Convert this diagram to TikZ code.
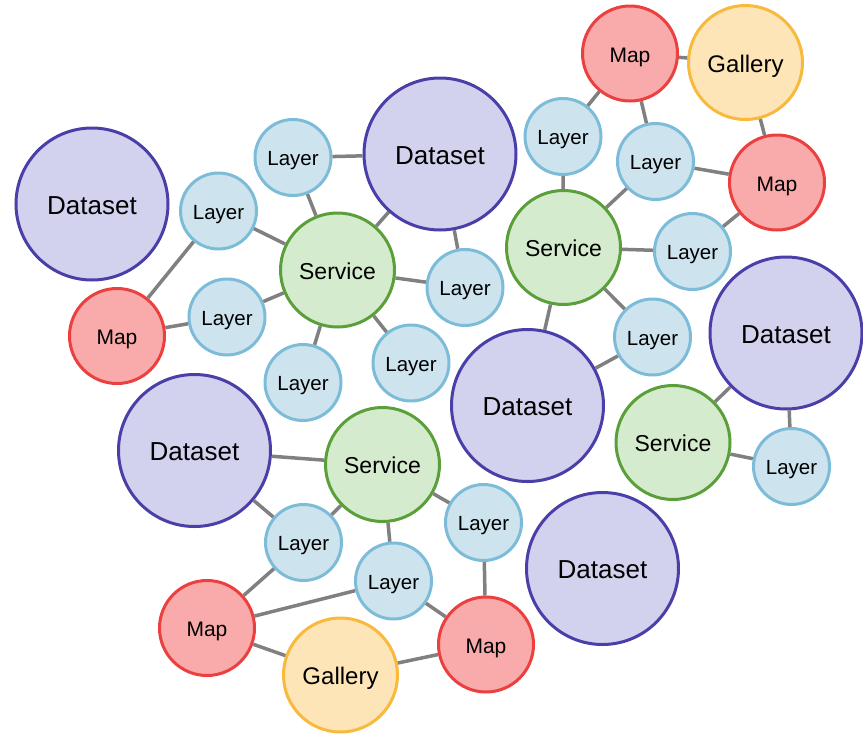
\documentclass[tikz,border=0pt]{standalone}
\usepackage{fontspec}
\setmainfont{Liberation Sans}
\usepackage{tikz}
\definecolor{ds_fill}{RGB}{211, 210, 238}
\definecolor{ds_draw}{RGB}{74, 63, 168}
\definecolor{sv_fill}{RGB}{213, 235, 205}
\definecolor{sv_draw}{RGB}{91, 159, 59}
\definecolor{ly_fill}{RGB}{205, 227, 238}
\definecolor{ly_draw}{RGB}{125, 188, 216}
\definecolor{mp_fill}{RGB}{249, 170, 170}
\definecolor{mp_draw}{RGB}{236, 64, 64}
\definecolor{gl_fill}{RGB}{253, 229, 184}
\definecolor{gl_draw}{RGB}{248, 185, 60}
\definecolor{ln_gray}{RGB}{128, 128, 128}
\tikzstyle{bub}=[circle,line width=3pt,inner sep=0pt,text depth=0pt]
\tikzstyle{ds}=[bub,fill=ds_fill,draw=ds_draw,text height=20.6pt,
  minimum size=152pt,font=\fontsize{26}{30}\selectfont]
\tikzstyle{sv}=[bub,fill=sv_fill,draw=sv_draw,text height=18.5pt,
  minimum size=114pt,font=\fontsize{23}{27}\selectfont]
\tikzstyle{ly}=[bub,fill=ly_fill,draw=ly_draw,text height=16.7pt,
  minimum size=76pt,font=\fontsize{20.5}{24}\selectfont]
\tikzstyle{mp}=[bub,fill=mp_fill,draw=mp_draw,text height=17pt,
  minimum size=95pt,font=\fontsize{21}{25}\selectfont]
\tikzstyle{gl}=[bub,fill=gl_fill,draw=gl_draw,text height=19.2pt,
  minimum size=114pt,font=\fontsize{24}{28}\selectfont]
\tikzstyle{ln}=[draw=ln_gray,line width=3.5pt]

\begin{document}
\begin{tikzpicture}[x=1pt,y=-1pt]
            \useasboundingbox (0, 0) rectangle (863, 734);
            % datasets
            \node [style=ds] (0) at (92, 204) {Dataset};
            \node [style=ds] (1) at (440, 154) {Dataset};
            \node [style=ds] (2) at (527.5, 405.5) {Dataset};
            \node [style=ds] (3) at (786, 333) {Dataset};
            \node [style=ds] (4) at (194.5, 450.5) {Dataset};
            \node [style=ds] (5) at (602.5, 568.5) {Dataset};
            % services
            \node [style=sv] (10) at (337.5, 270) {Service};
            \node [style=sv] (11) at (563.5, 247.5) {Service};
            \node [style=sv] (12) at (673, 442.5) {Service};
            \node [style=sv] (13) at (382.5, 464.5) {Service};
            % layers
            \node [style=ly] (20) at (293, 157.5) {Layer};
            \node [style=ly] (21) at (218.5, 211) {Layer};
            \node [style=ly] (22) at (227, 317) {Layer};
            \node [style=ly] (23) at (303, 382.5) {Layer};
            \node [style=ly] (24) at (411, 363) {Layer};
            \node [style=ly] (25) at (465, 287.5) {Layer};
            \node [style=ly] (26) at (563, 136.5) {Layer};
            \node [style=ly] (27) at (655.5, 161.5) {Layer};
            \node [style=ly] (28) at (692.5, 251.5) {Layer};
            \node [style=ly] (29) at (652.5, 337) {Layer};
            \node [style=ly] (30) at (791.5, 466.5) {Layer};
            \node [style=ly] (31) at (483.5, 522.5) {Layer};
            \node [style=ly] (32) at (303.5, 542.5) {Layer};
            \node [style=ly] (33) at (393.5, 581) {Layer};
            % maps
            \node [style=mp] (40) at (117, 336) {Map};
            \node [style=mp] (41) at (630, 53.5) {Map};
            \node [style=mp] (42) at (777, 182.5) {Map};
            \node [style=mp] (43) at (207, 628) {Map};
            \node [style=mp] (44) at (486, 644.5) {Map};
            % galleries
            \node [style=gl] (50) at (745.5, 62.5) {Gallery};
            \node [style=gl] (51) at (340.5, 675) {Gallery};
            % links
            \draw [style=ln] (40) to (21);
            \draw [style=ln] (40) to (22);
            \draw [style=ln] (21) to (10);
            \draw [style=ln] (22) to (10);
            \draw [style=ln] (20) to (10);
            \draw [style=ln] (20) to (1);
            \draw [style=ln] (1) to (10);
            \draw [style=ln] (1) to (25);
            \draw [style=ln] (10) to (25);
            \draw [style=ln] (10) to (24);
            \draw [style=ln] (10) to (23);
            \draw [style=ln] (26) to (11);
            \draw [style=ln] (26) to (41);
            \draw [style=ln] (41) to (50);
            \draw [style=ln] (41) to (27);
            \draw [style=ln] (27) to (11);
            \draw [style=ln] (27) to (42);
            \draw [style=ln] (50) to (42);
            \draw [style=ln] (42) to (28);
            \draw [style=ln] (11) to (28);
            \draw [style=ln] (11) to (29);
            \draw [style=ln] (11) to (2);
            \draw [style=ln] (29) to (2);
            \draw [style=ln] (3) to (12);
            \draw [style=ln] (3) to (30);
            \draw [style=ln] (12) to (30);
            \draw [style=ln] (4) to (13);
            \draw [style=ln] (4) to (32);
            \draw [style=ln] (13) to (32);
            \draw [style=ln] (13) to (33);
            \draw [style=ln] (13) to (31);
            \draw [style=ln] (32) to (43);
            \draw [style=ln] (33) to (43);
            \draw [style=ln] (33) to (44);
            \draw [style=ln] (31) to (44);
            \draw [style=ln] (43) to (51);
            \draw [style=ln] (51) to (44);
    \end{tikzpicture}
\end{document}
